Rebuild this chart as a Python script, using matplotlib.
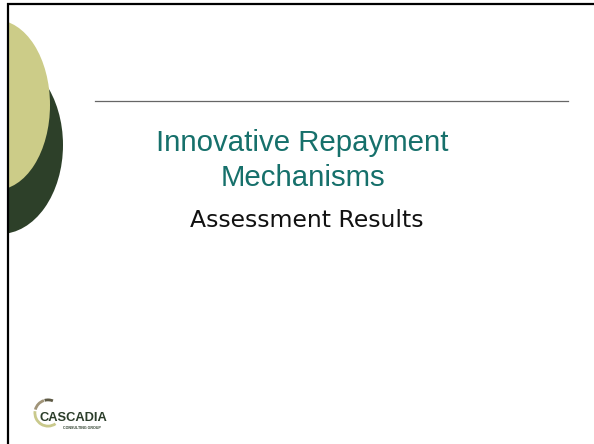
import matplotlib
matplotlib.use("Agg")
import matplotlib.pyplot as plt
from matplotlib.patches import Ellipse, Rectangle, Wedge

# Slide content
title_lines = ["Innovative Repayment", "Mechanisms"]
subtitle = "Assessment Results"
logo_name = "CASCADIA"
logo_tag = "CONSULTING GROUP"

W, H = 594, 444
fig = plt.figure(figsize=(W / 100, H / 100), dpi=100)
ax = fig.add_axes([0, 0, 1, 1])
ax.set_xlim(0, W)
ax.set_ylim(H, 0)
ax.axis("off")

clip = Rectangle((8.5, 0), W, H, transform=ax.transData)

# decorative ellipses on the left
dark = Ellipse((0, 145), 126, 178, facecolor="#2D4029", edgecolor="none", zorder=1)
light = Ellipse((-4, 105), 108, 170, facecolor="#CCCC88", edgecolor="none", zorder=2)
for e in (dark, light):
    ax.add_patch(e)
    e.set_clip_path(clip)

# border lines (top and left)
ax.plot([7, W], [4.3, 4.3], color="black", lw=1.6, solid_capstyle="butt", zorder=5)
ax.plot([7.8, 7.8], [3.5, H], color="black", lw=1.6, solid_capstyle="butt", zorder=5)

# horizontal rule
ax.plot([95, 568], [101.5, 101.5], color="#666666", lw=0.9, zorder=3)

# title
title_color = "#16706B"
ax.text(302.5, 151, title_lines[0], ha="center", va="baseline", fontsize=21.2,
        family="Liberation Sans", color=title_color)
ax.text(302.5, 186, title_lines[1], ha="center", va="baseline", fontsize=21.2,
        family="Liberation Sans", color=title_color)

# subtitle
ax.text(307, 227, subtitle, ha="center", va="baseline", fontsize=16.9,
        family="DejaVu Sans", color="#111111")

# logo arcs (visual angles -> data angles negated because y is inverted)
cx, cy, r = 48, 413, 14.5
segs = [(68, 105, "#5E5A45"), (108, 165, "#A09478"), (172, 305, "#C9C98C")]
for a1, a2, col in segs:
    ax.add_patch(Wedge((cx, cy), r, -a2, -a1, width=2.8, facecolor=col,
                       edgecolor="none", zorder=4))

ax.text(40, 421, logo_name, ha="left", va="baseline", fontsize=9.3,
        family="Liberation Sans", weight="bold", color="#2B3D2A")
ax.text(63, 428.5, logo_tag, ha="left", va="baseline", fontsize=2.6,
        family="Liberation Sans", weight="bold", color="#2B3D2A")

fig.savefig("out.png", dpi=100, facecolor="white")
